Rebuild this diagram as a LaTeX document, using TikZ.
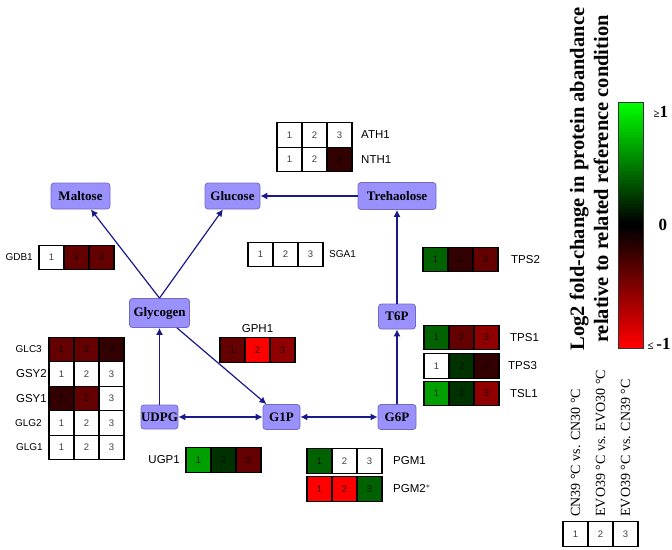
\documentclass[tikz,border=0pt]{standalone}
\usepackage{fontspec}
\setmainfont{Liberation Serif}
\setsansfont{Liberation Sans}
\usepackage{tikz}
\usetikzlibrary{positioning,arrows.meta}
\definecolor{metabfill}{RGB}{155,145,252}
\definecolor{metabdraw}{RGB}{115,105,195}
\definecolor{pathblue}{RGB}{25,25,140}
\definecolor{downA}{RGB}{50,0,0}
\definecolor{downB}{RGB}{101,0,0}
\definecolor{downC}{RGB}{144,0,0}
\definecolor{downD}{RGB}{255,0,0}
\definecolor{upA}{RGB}{0,50,0}
\definecolor{upB}{RGB}{0,98,0}
\definecolor{upC}{RGB}{0,160,0}
\definecolor{upmax}{RGB}{0,255,0}

% one row of three fold-change cells: name, position, colours
\newcommand{\heatrow}[5]{%
  \node[cell, fill=#3, anchor=west] (#1-1) at #2 {1};
  \node[cell, fill=#4, right=0pt of #1-1] (#1-2) {2};
  \node[cell, fill=#5, right=0pt of #1-2] (#1-3) {3};}

\begin{document}
\begin{tikzpicture}[
        x=1pt, y=-1pt,
        metab/.style={rectangle, rounded corners=3pt, draw=metabdraw, thick, fill=metabfill, inner sep=1pt, minimum height=25pt, font=\bfseries\fontsize{13}{15}\selectfont},
        cell/.style={rectangle, draw=black, line width=1.1pt, outer sep=0pt, inner sep=0pt, minimum width=25pt, minimum height=24.5pt, text=black, text opacity=0.75, font=\sffamily\fontsize{9.5}{11}\selectfont},
        gene/.style={inner sep=0pt, font=\sffamily\fontsize{11.5}{13}\selectfont},
        genesmall/.style={inner sep=0pt, font=\sffamily\fontsize{10}{12}\selectfont},
        cond/.style={rotate=90, anchor=west, inner sep=0pt, font=\fontsize{14}{16}\selectfont},
        ticklbl/.style={anchor=west, inner sep=0pt, font=\bfseries\fontsize{17}{19}\selectfont},
        flow/.style={color=pathblue, line width=1.2pt, >={Latex[length=7pt, width=7pt]}}
    ]
    \useasboundingbox (0,0) rectangle (672,549);

    % Metabolites
    \node[metab, minimum width=59pt, minimum height=26pt] (maltose) at (80.5,196) {Maltose};
    \node[metab, minimum width=55pt, minimum height=26pt] (glucose) at (232.5,196) {Glucose};
    \node[metab, minimum width=78pt, minimum height=27pt] (trehalose) at (397,196) {Trehaolose};
    \node[metab, minimum width=60pt, minimum height=29pt] (glycogen) at (159.5,313) {Glycogen};
    \node[metab, minimum width=37pt, minimum height=24pt, inner sep=0pt] (udpg) at (159.5,417) {UDPG};
    \node[metab, minimum width=37pt] (g1p) at (281.5,417) {G1P};
    \node[metab, minimum width=38pt] (g6p) at (397,417) {G6P};
    \node[metab, minimum width=37pt] (t6p) at (397,316.5) {T6P};

    % Reactions
    \draw[flow, ->] (glycogen.north) -- (maltose);
    \draw[flow, ->] (glycogen.north) -- (glucose);
    \draw[flow, ->] (trehalose) -- (glucose);
    \draw[flow, ->] (t6p) -- (trehalose);
    \draw[flow, ->] (g6p) -- (t6p);
    \draw[flow, <->] (g1p) -- (g6p);
    \draw[flow, <->] (udpg) -- (g1p);
    \draw[flow, ->] (udpg) -- (glycogen);
    \draw[flow, ->] (glycogen) -- (g1p);

    % Protein fold-changes
    \heatrow{ath1}{(277,135)}{white}{white}{white}
    \heatrow{nth1}{(277,159.5)}{white}{white}{downA}
    \heatrow{gdb1}{(39,257.5)}{white}{downB}{downB}
    \heatrow{sga1}{(248,254.5)}{white}{white}{white}
    \heatrow{tps2}{(423,259.5)}{upB}{downA}{downB}
    \heatrow{gph1}{(220,350)}{downB}{downD}{downC}
    \heatrow{glc3}{(49,349.5)}{downB}{downB}{downA}
    \heatrow{gsy2}{(49,374)}{white}{white}{white}
    \heatrow{gsy1}{(49,398.5)}{downA}{downB}{white}
    \heatrow{glg2}{(49,423)}{white}{white}{white}
    \heatrow{glg1}{(49,447.5)}{white}{white}{white}
    \heatrow{ugp1}{(186,460)}{upC}{upA}{downB}
    \heatrow{tps1}{(424,337.5)}{upB}{downB}{downC}
    \heatrow{tps3}{(424,366)}{white}{upA}{downA}
    \heatrow{tsl1}{(424,393.5)}{upC}{upA}{downC}
    \heatrow{pgm1}{(307,461)}{upB}{white}{white}
    \heatrow{pgm2}{(307,489)}{downD}{downD}{upB}

    % Gene names
    \node[gene, right=9pt of ath1-3] (ath1) {ATH1};
    \node[gene, right=9pt of nth1-3] (nth1) {NTH1};
    \node[genesmall, left=6pt of gdb1-1] (gdb1) {GDB1};
    \node[genesmall, right=6pt of sga1-3] (sga1) {SGA1};
    \node[gene, right=13pt of tps2-3] (tps2) {TPS2};
    \node[gene, above=5pt of gph1-2] (gph1) {GPH1};
    \node[genesmall, left=7pt of glc3-1] (glc3) {GLC3};
    \node[gene, left=2pt of gsy2-1] (gsy2) {GSY2};
    \node[gene, left=2pt of gsy1-1] (gsy1) {GSY1};
    \node[genesmall, left=7pt of glg2-1] (glg2) {GLG2};
    \node[genesmall, left=6pt of glg1-1] (glg1) {GLG1};
    \node[gene, left=6pt of ugp1-1] (ugp1) {UGP1};
    \node[gene, right=11pt of tps1-3] (tps1) {TPS1};
    \node[gene, right=9pt of tps3-3] (tps3) {TPS3};
    \node[gene, right=11pt of tsl1-3] (tsl1) {TSL1};
    \node[gene, right=11pt of pgm1-3] (pgm1) {PGM1};
    \node[gene, right=11pt of pgm2-3] (pgm2) {PGM2$^{*}$};

    % Colour scale: green (up) over black to red (down), in thin bands
    \node[rotate=90, align=center, inner sep=0pt, font=\bfseries\fontsize{20.5}{24}\selectfont] (scaletitle) at (589,179) {Log2 fold-change in protein abandance\\relative to related reference condition};
    \foreach \i in {0,...,40} {
        \pgfmathsetmacro{\up}{100-2.5*\i}
        \pgfmathsetmacro{\down}{2.5*\i}
        \fill[upmax!\up!black] (618,{102+3*\i}) rectangle ++(25,3.3);
        \fill[downD!\down!black] (618,{225+3*\i}) rectangle ++(25,3.3);
    }
    \node[draw=black!80, thick, rectangle, minimum width=25pt, minimum height=246pt, inner sep=0pt] (colorbar) at (630.5,225) {};
    \node[ticklbl] (tickmax) at ([xshift=10pt, yshift=-10pt]colorbar.north east) {{\fontsize{11}{13}\selectfont ≥}1};
    \node[ticklbl] (tickzero) at ([xshift=15pt]colorbar.east) {0};
    \node[ticklbl] (tickmin) at ([xshift=4pt, yshift=5pt]colorbar.south east) {{\fontsize{11}{13}\selectfont ≤}\,-1};

    % Comparisons
    \heatrow{leg}{(563,534)}{white}{white}{white}
    \node[cond] (cond1) at ([yshift=5pt]leg-1.north) {CN39 \textdegree C vs. CN30 \textdegree C};
    \node[cond] (cond2) at ([yshift=5pt]leg-2.north) {EVO39 \textdegree C vs. EVO30 \textdegree C};
    \node[cond] (cond3) at ([yshift=5pt]leg-3.north) {EVO39 \textdegree C vs. CN39 \textdegree C};

\end{tikzpicture}
\end{document}
